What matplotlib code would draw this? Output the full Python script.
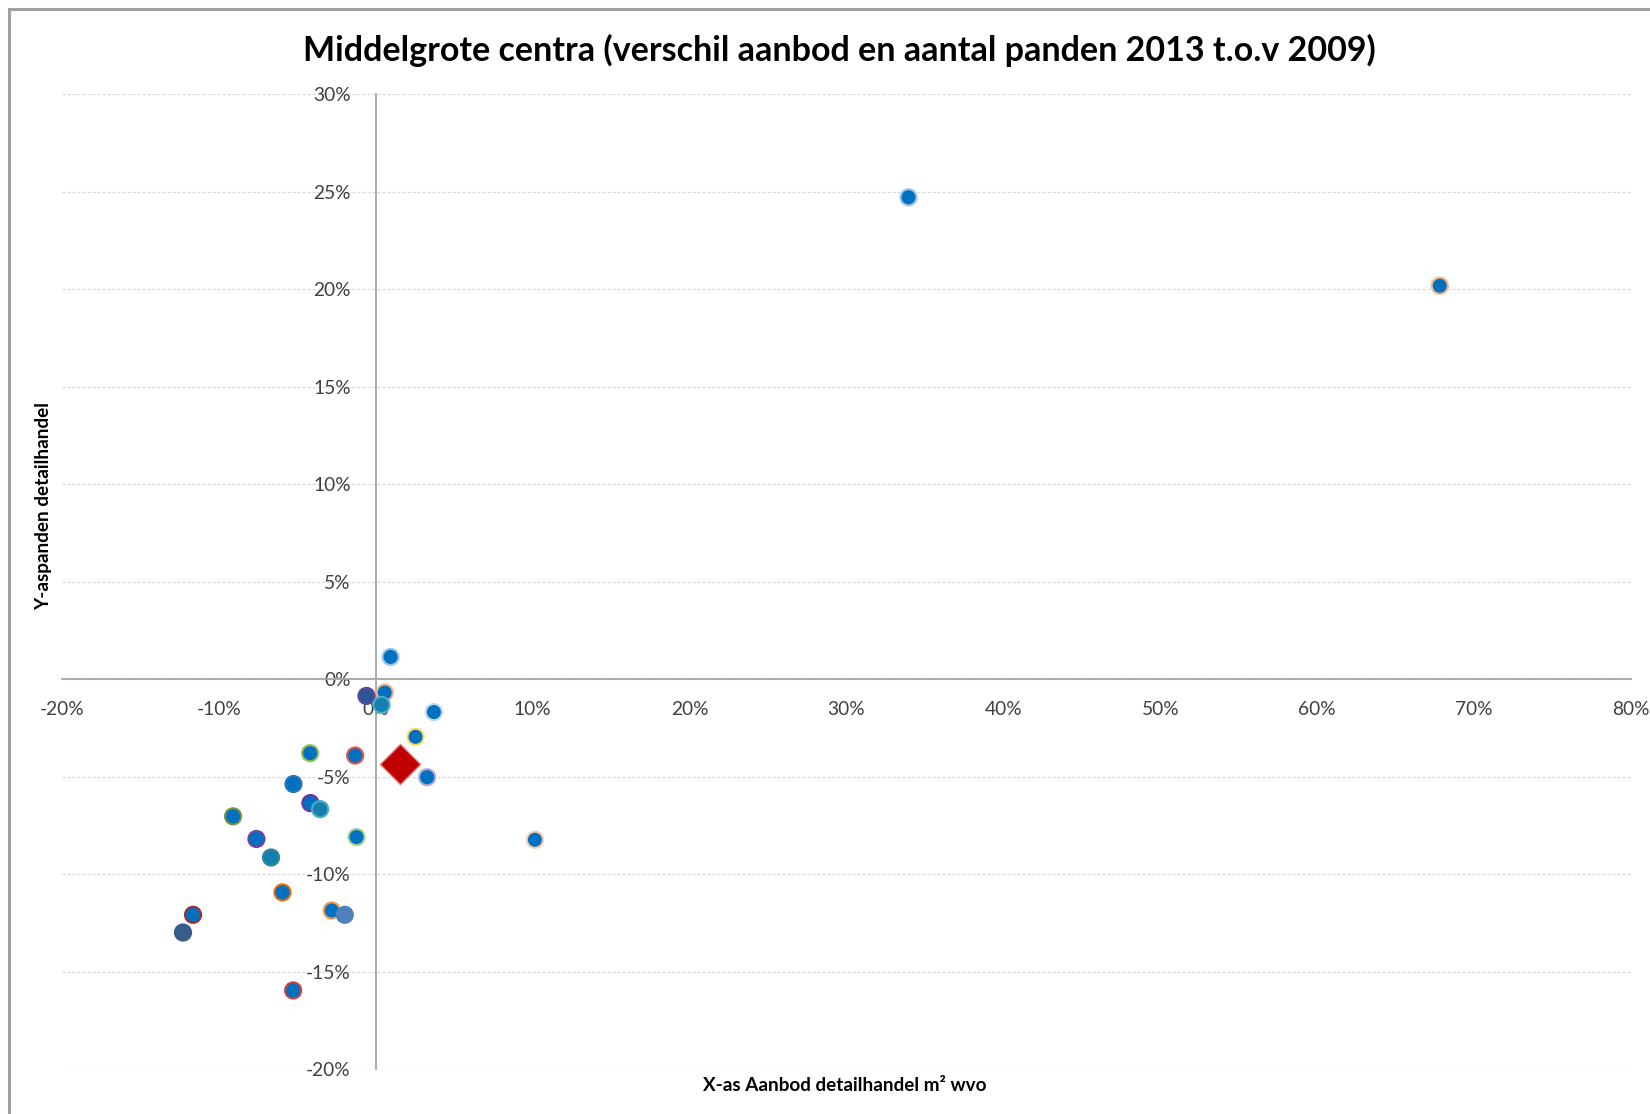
import matplotlib.pyplot as plt
from matplotlib.patches import Rectangle
from matplotlib.ticker import FuncFormatter

plt.rcParams['font.family'] = ['Lato', 'DejaVu Sans']

# verschil aanbod m2 wvo (x) en aantal panden (y), 2013 t.o.v. 2009, in procenten
aanbod_pct = [0.94, -0.6, 0.57, 0.36, 3.7, 2.53, -4.19, -1.32, 3.27, -5.25,
              -4.17, -3.55, -9.1, -1.23, 10.14, -7.61, -6.68, -5.95, -2.81,
              -1.98, -11.65, -12.29, -5.27, 33.95, 67.81]
panden_pct = [1.14, -0.86, -0.69, -1.32, -1.69, -2.96, -3.8, -3.92, -5.03, -5.38,
              -6.36, -6.67, -7.04, -8.1, -8.24, -8.2, -9.15, -10.94, -11.87,
              -12.09, -12.09, -13.0, -15.97, 24.72, 20.18]

# gemiddelde van alle middelgrote centra
gem_aanbod = 1.57
gem_panden = -4.34

# kleuren per centrum (vulling en rand)
vulkleur = ['#0070C0', '#2F5597', '#0070C0', '#1380B0', '#0070C0', '#0070C0',
            '#0070C0', '#0070C0', '#0070C0', '#0070C0', '#0070C0', '#1380B0',
            '#0070C0', '#0070C0', '#0070C0', '#0070C0', '#1380B0', '#0070C0',
            '#0070C0', '#4F81BD', '#0070C0', '#385D8A', '#0070C0', '#0070C0',
            '#0070C0']
randkleur = ['#9DC3E6', '#5B4A9A', '#F4B183', '#4BACC6', '#BDD7EE', '#FFD966',
             '#92C050', '#E05555', '#B4A7D6', '#2E75B6', '#7030A0', '#4BACC6',
             '#76923C', '#A9D18E', '#F8CBAD', '#7F3F98', '#31859C', '#E46C0A',
             '#F79646', '#4F81BD', '#A03030', '#385D8A', '#D04040', '#9DC3E6',
             '#F4B183']

fig = plt.figure(figsize=(16.5, 11.14), dpi=100)
ax = fig.add_axes([0.0376, 0.0404, 0.9509, 0.8749])

ax.scatter(aanbod_pct, panden_pct, s=135, c=vulkleur, edgecolors=randkleur,
           linewidths=1.5, zorder=3)
ax.scatter([gem_aanbod], [gem_panden], s=420, marker='D', c='#C00000',
           edgecolors='#E08080', linewidths=1.0, zorder=4)

ax.set_xlim(-20, 80)
ax.set_ylim(-20, 30)
ax.set_xticks(range(-20, 81, 10))
ax.set_yticks(range(-20, 31, 5))
pct = FuncFormatter(lambda v, p: f'{v:.0f}%')
ax.xaxis.set_major_formatter(pct)
ax.yaxis.set_major_formatter(pct)

# assen door de oorsprong
ax.spines['left'].set_position(('data', 0))
ax.spines['bottom'].set_position(('data', 0))
ax.spines['right'].set_visible(False)
ax.spines['top'].set_visible(False)
for s in ('left', 'bottom'):
    ax.spines[s].set_color('#A6A6A6')
    ax.spines[s].set_linewidth(1.3)
ax.tick_params(axis='x', length=0, pad=16, labelsize=13.8, labelcolor='#404040')
ax.tick_params(axis='y', length=0, pad=18, labelsize=13.8, labelcolor='#404040')

ax.yaxis.grid(True, color='#D9D9D9', linewidth=0.9, linestyle=(0, (2.5, 1.5)))
ax.set_axisbelow(True)

fig.text(0.509, 0.955, 'Middelgrote centra (verschil aanbod en aantal panden 2013 t.o.v 2009)',
         ha='center', va='center', fontsize=24.5, fontweight='bold', color='black')
fig.text(0.512, 0.026, 'X-as Aanbod detailhandel m² wvo', ha='center', va='center',
         fontsize=13.6, fontweight='bold')
fig.text(0.0267, 0.546, 'Y-aspanden detailhandel', ha='center', va='center',
         rotation=90, fontsize=13.6, fontweight='bold')

# kader rond de grafiek
fig.patches.append(Rectangle((9 / 1650, -0.02), 1.1, 1 - 9 / 1114 + 0.02,
                             transform=fig.transFigure, fill=False,
                             edgecolor='#A0A0A0', linewidth=2.2))

fig.savefig('out.png', dpi=100)
